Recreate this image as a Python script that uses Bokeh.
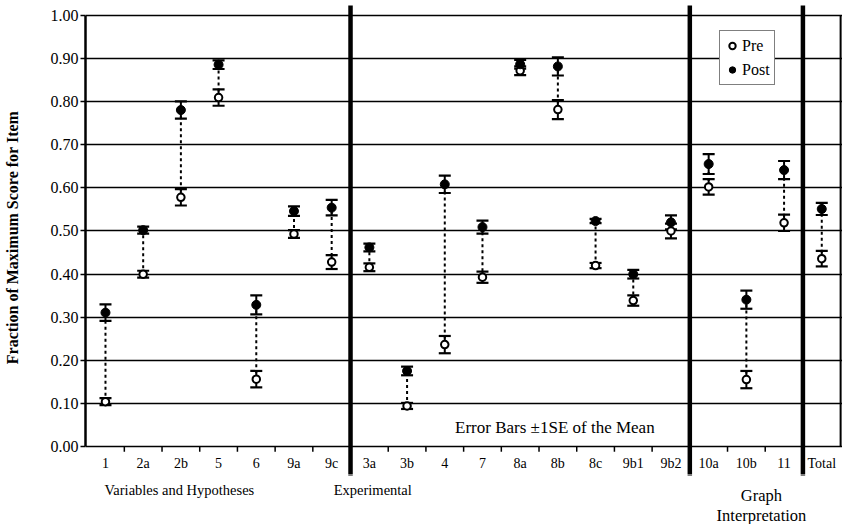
from bokeh.plotting import figure
from bokeh.layouts import column
from bokeh.models import Range1d, FixedTicker, ColumnDataSource, Label, PrintfTickFormatter
from bokeh.core.properties import value
from bokeh.embed import file_html
from bokeh.resources import INLINE

# ---------------- data ----------------
categories = ["1", "2a", "2b", "5", "6", "9a", "9c",
              "3a", "3b", "4", "7", "8a", "8b", "8c", "9b1", "9b2",
              "10a", "10b", "11", "Total"]
pre = [0.105, 0.400, 0.578, 0.809, 0.157, 0.493, 0.428,
       0.416, 0.095, 0.237, 0.393, 0.871, 0.781, 0.420, 0.339, 0.500,
       0.602, 0.156, 0.519, 0.436]
pre_se = [0.008, 0.008, 0.019, 0.019, 0.019, 0.009, 0.016,
          0.009, 0.007, 0.020, 0.013, 0.010, 0.022, 0.006, 0.012, 0.017,
          0.018, 0.020, 0.019, 0.018]
post = [0.311, 0.502, 0.780, 0.885, 0.329, 0.546, 0.554,
        0.462, 0.176, 0.608, 0.509, 0.886, 0.881, 0.523, 0.400, 0.520,
        0.655, 0.341, 0.641, 0.551]
post_se = [0.019, 0.008, 0.020, 0.010, 0.022, 0.011, 0.018,
           0.009, 0.010, 0.020, 0.015, 0.010, 0.021, 0.005, 0.010, 0.016,
           0.023, 0.021, 0.021, 0.014]
group_names = ["Variables and Hypotheses", "Experimental"]
group_name_last = ["Graph", "Interpretation"]
group_last_index = [6, 15, 18]          # last item of each group (separator after it)
y_ticks = [0.0, 0.1, 0.2, 0.3, 0.4, 0.5, 0.6, 0.7, 0.8, 0.9, 1.0]
series_names = ["Pre", "Post"]
note_text = "Error Bars \u00b11SE of the Mean"
y_title = "Fraction of Maximum Score for Item"

FONT = "Liberation Serif"

# ---------------- derived ----------------
n = len(categories)
x = list(range(n))
src = ColumnDataSource(dict(
    x=x, pre=pre, post=post,
    pre_lo=[v - s for v, s in zip(pre, pre_se)],
    pre_hi=[v + s for v, s in zip(pre, pre_se)],
    post_lo=[v - s for v, s in zip(post, post_se)],
    post_hi=[v + s for v, s in zip(post, post_se)],
))

X_RANGE = Range1d(-0.53, n - 0.45)
Y_TOP = 1.0336
Y_MID = -0.0637      # boundary between the two stacked canvases
Y_BOT = -0.1794
SEP_TOP = 1.022
SEP_BOT = -0.066

sep_x = [i + 0.5 for i in group_last_index]
tick_x = [i + 0.5 for i in range(n - 1) if i not in group_last_index]

# ================= main plot =================
p = figure(width=842, height=474, x_range=X_RANGE, y_range=Range1d(Y_MID, Y_TOP),
           output_backend="svg", toolbar_location=None, x_axis_location=None,
           min_border_left=84, min_border_right=0, min_border_top=0, min_border_bottom=0)
p.outline_line_color = None

yax = p.yaxis[0]
yax.ticker = FixedTicker(ticks=y_ticks)
yax.formatter = PrintfTickFormatter(format="%.2f")
yax.bounds = (0, 1)
yax.axis_line_width = 2.5
yax.axis_line_color = "black"
yax.major_tick_out = 5
yax.major_tick_in = 0
yax.major_tick_line_width = 1.5
yax.minor_tick_out = 0
yax.minor_tick_in = 0
yax.major_label_text_font = FONT
yax.major_label_text_font_size = "16px"
yax.major_label_text_color = "black"
yax.major_label_standoff = 2
yax.axis_label = y_title
yax.axis_label_text_font = FONT
yax.axis_label_text_font_size = "16px"
yax.axis_label_text_font_style = "bold"
yax.axis_label_text_color = "black"
yax.axis_label_standoff = 27

p.ygrid.ticker = FixedTicker(ticks=y_ticks)
p.ygrid.grid_line_color = "black"
p.ygrid.grid_line_width = 1.6
p.ygrid.grid_line_alpha = 1.0
p.xgrid.visible = False

# right border
p.segment(x0=[n - 0.5], y0=[0], x1=[n - 0.5], y1=[1], line_color="black", line_width=2)
# separators
p.segment(x0=sep_x, y0=[SEP_BOT] * len(sep_x), x1=sep_x, y1=[SEP_TOP] * len(sep_x),
          line_color="black", line_width=4.5)
# small ticks below axis line
p.segment(x0=tick_x, y0=[0] * len(tick_x), x1=tick_x, y1=[-0.011] * len(tick_x),
          line_color="black", line_width=1.5)

# category labels
p.text(x=x, y=[-0.0382] * n, text=categories,
       text_font=value(FONT), text_font_size="14px", text_color="black",
       text_align="center", text_baseline="middle")

# dashed connectors pre -> post
p.segment(x0="x", y0="pre", x1="x", y1="post", source=src,
          line_color="black", line_width=2, line_dash="3 3")

# error bars
for lo, hi in (("pre_lo", "pre_hi"), ("post_lo", "post_hi")):
    p.segment(x0="x", y0=lo, x1="x", y1=hi, source=src, line_color="black", line_width=2)
    p.scatter(x="x", y=lo, source=src, marker="dash", size=12, line_color="black", line_width=2.2)
    p.scatter(x="x", y=hi, source=src, marker="dash", size=12, line_color="black", line_width=2.2)

# markers
p.scatter(x="x", y="pre", source=src, marker="circle", size=7.5,
          fill_color="white", line_color="black", line_width=2, legend_label=series_names[0])
p.scatter(x="x", y="post", source=src, marker="circle", size=9,
          fill_color="black", line_color="black", line_width=1, legend_label=series_names[1])

lg = p.legend[0]
lg.location = (634, 389)
lg.margin = 0
lg.padding = 4
lg.spacing = 3
lg.glyph_width = 16
lg.glyph_height = 21
lg.label_height = 21
lg.label_standoff = 2
lg.label_text_font = FONT
lg.label_text_font_size = "16px"
lg.label_text_color = "black"
lg.border_line_color = "black"
lg.border_line_width = 1.5
lg.background_fill_color = "white"
lg.background_fill_alpha = 1.0

p.add_layout(Label(x=11.92, y=0.045, text=note_text, text_font=FONT, text_font_size="17px",
                   text_color="black", text_align="center", text_baseline="middle"))

# ================= group labels strip =================
q = figure(width=842, height=50, x_range=X_RANGE, y_range=Range1d(Y_BOT, Y_MID),
           output_backend="svg", toolbar_location=None,
           x_axis_location=None, y_axis_location=None,
           min_border_left=84, min_border_right=0, min_border_top=0, min_border_bottom=0)
q.outline_line_color = None
q.xgrid.visible = False
q.ygrid.visible = False

q.segment(x0=sep_x, y0=[SEP_BOT] * len(sep_x), x1=sep_x, y1=[SEP_TOP] * len(sep_x),
          line_color="black", line_width=4.5)

q.text(x=[1.96, 7.09], y=[-0.1007, -0.1007], text=group_names,
       text_font=value(FONT), text_font_size="14.5px", text_color="black",
       text_align="center", text_baseline="middle")
q.text(x=[17.4, 17.4], y=[-0.1123, -0.1586], text=group_name_last,
       text_font=value(FONT), text_font_size="16.5px", text_color="black",
       text_align="center", text_baseline="middle")

layout = column(p, q, spacing=0)
open("out.html", "w").write(file_html(layout, INLINE))
